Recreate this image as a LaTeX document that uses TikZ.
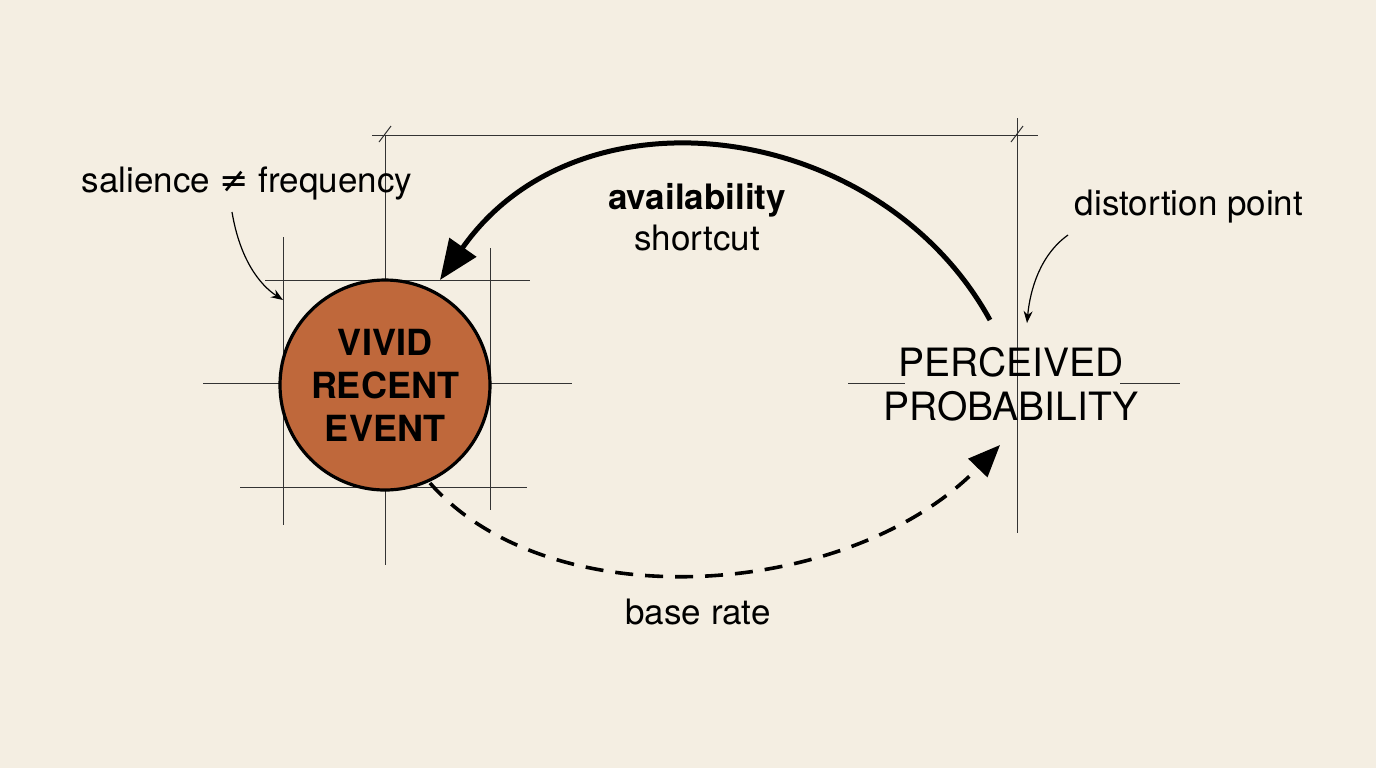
\documentclass[tikz,border=0pt]{standalone}
\usepackage{fontspec}
\setmainfont{TeX Gyre Heros}
\newfontfamily\symf{DejaVu Sans}
\usetikzlibrary{arrows.meta}
\definecolor{bg}{HTML}{F4EEE2}
\definecolor{rust}{HTML}{BF683B}
\begin{document}
\begin{tikzpicture}[x=0.5pt,y=-0.5pt,
  guide/.style={line width=0.5pt,black!80},
  lbl/.style={font=\fontsize{17.5}{20.5}\selectfont,align=center},
  big/.style={font=\fontsize{19.5}{22}\selectfont,align=center}]
\fill[bg] (0,0) rectangle (1376,768);
\useasboundingbox (0,0) rectangle (1376,768);
% guides
\draw[guide] (283,237) -- (283,525);
\draw[guide] (385,135) -- (385,565);
\draw[guide] (490,248) -- (490,510);
\draw[guide] (265,280) -- (530,280);
\draw[guide] (203,383) -- (572,383);
\draw[guide] (240,487) -- (527,487);
\draw[guide] (372,135) -- (1038,135);
\draw[guide] (1017,118) -- (1017,533);
\draw[guide] (848,383) -- (905,383);
\draw[guide] (1120,383) -- (1180,383);
\draw[guide] (379,142) -- (391,126);
\draw[guide] (1011,142) -- (1023,126);
% circle
\node[circle,draw,line width=1.6pt,fill=rust,minimum size=105pt,inner sep=0,align=center,font=\fontsize{18}{21.5}\selectfont\bfseries] (ev) at (385,385) {VIVID\\RECENT\\EVENT};
\node[big] (pp) at (1011,384) {PERCEIVED\\PROBABILITY};
% labels
\node[lbl] (sal) at (247,183) {salience {\symf ≠} frequency};
\node[lbl] (dis) at (1189,207) {distortion point};
\node[lbl] (av) at (697,217) {\textbf{availability}\\shortcut};
\node[lbl] (br) at (698,612) {base rate};
\coordinate (s1) at (232,212); \coordinate (s2) at (283,300);
\draw[line width=0.6pt,-{Stealth[length=6pt]}] (s1) .. controls (240,260) and (260,285) .. (s2);
\coordinate (d1) at (1068,235); \coordinate (d2) at (1027,323);
\draw[line width=0.6pt,-{Stealth[length=6pt]}] (d1) .. controls (1040,255) and (1030,290) .. (d2);
% arrows
\coordinate (a1) at (990,320); \coordinate (a2) at (440,280);
\draw[line width=2.5pt,-{Triangle[length=20pt,width=16pt]}] (a1) .. controls (880,120) and (580,80) .. (a2);
\coordinate (b1) at (430,483); \coordinate (b2) at (1000,445);
\draw[line width=1.8pt,dash pattern=on 9pt off 6pt,-{Triangle[length=16pt,width=13pt]}] (b1) .. controls (550,620) and (850,600) .. (b2);
\end{tikzpicture}
\end{document}
